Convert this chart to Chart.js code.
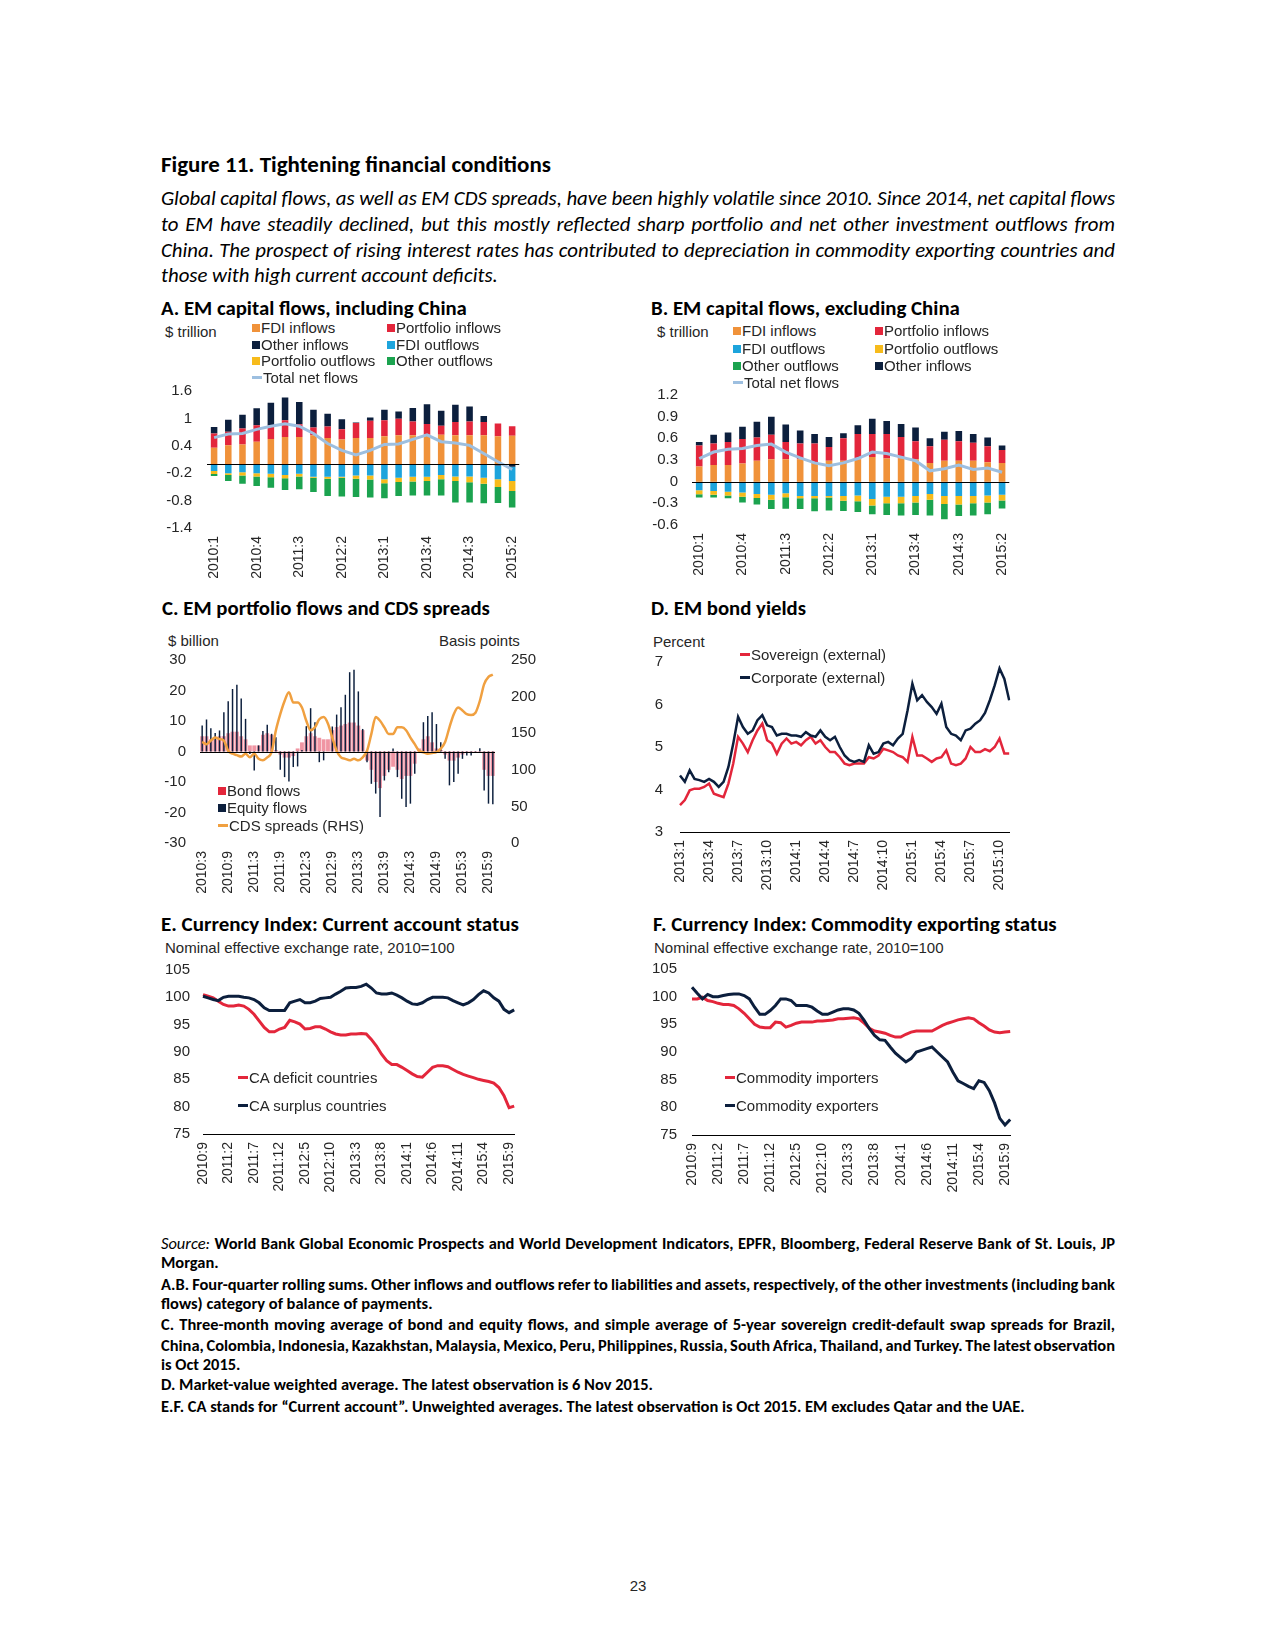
<!DOCTYPE html>
<html>
<head>
<meta charset="utf-8">
<script src="https://cdn.jsdelivr.net/npm/chart.js@4.4.1/dist/chart.umd.min.js"></script>
<style>
body { margin: 0; background: #fff; }
#page { position: relative; width: 1275px; height: 1650px; background: #fff; overflow: hidden; font-family: Carlito, Lato, sans-serif; color: #000; }
.ln { position: absolute; white-space: nowrap; line-height: 20px; }
.fig { font-weight: bold; font-size: 18px; }
.pt { font-weight: bold; font-size: 17px; }
.para { font-style: italic; font-size: 17px; }
.foot { font-size: 13.5px; font-weight: bold; }
.foot i { font-weight: normal; }
.ax { font-family: 'Liberation Sans', Arial, sans-serif; font-size: 15px; color: #262626; }
.lg { position: absolute; white-space: nowrap; line-height: 20px; font: 15px 'Liberation Sans', Arial, sans-serif; color: #262626; }
.sw-box { display: inline-block; width: 8px; height: 8px; margin-right: 1px; vertical-align: 1px; }
.sw-line { display: inline-block; width: 10px; height: 3px; margin-right: 1px; vertical-align: 4px; }
.box { position: absolute; }
</style>
</head>
<body>
<div id="page">

<div class="ln fig fit" data-w="390" style="left:161px;top:154px">Figure 11. Tightening financial conditions</div>

<div class="ln para pj" style="left:161px;top:188px">Global capital flows, as well as EM CDS spreads, have been highly volatile since 2010. Since 2014, net capital flows</div>
<div class="ln para pj" style="left:161px;top:214px">to EM have steadily declined, but this mostly reflected sharp portfolio and net other investment outflows from</div>
<div class="ln para pj" style="left:161px;top:240px">China. The prospect of rising interest rates has contributed to depreciation in commodity exporting countries and</div>
<div class="ln para" id="paraLast" style="left:161px;top:265px">those with high current account deficits.</div>

<div class="ln pt fit" data-w="306" style="left:161px;top:298px">A. EM capital flows, including China</div>
<div class="ln pt fit" data-w="309" style="left:651px;top:298px">B. EM capital flows, excluding China</div>
<div class="ln pt fit" data-w="328" style="left:162px;top:598px">C. EM portfolio flows and CDS spreads</div>
<div class="ln pt fit" data-w="155" style="left:651px;top:598px">D. EM bond yields</div>
<div class="ln pt fit" data-w="358" style="left:161px;top:914px">E. Currency Index: Current account status</div>
<div class="ln pt fit" data-w="404" style="left:653px;top:914px">F. Currency Index: Commodity exporting status</div>

<div class="ln ax" style="left:165px;top:322px">$ trillion</div>
<div class="ln ax" style="left:657px;top:322px">$ trillion</div>
<div class="ln ax" style="left:168px;top:631px">$ billion</div>
<div class="ln ax" style="left:439px;top:631px">Basis points</div>
<div class="ln ax" style="left:653px;top:632px">Percent</div>
<div class="ln ax" style="left:165px;top:938px">Nominal effective exchange rate, 2010=100</div>
<div class="ln ax" style="left:654px;top:938px">Nominal effective exchange rate, 2010=100</div>

<div class="box" style="left:150px;top:367px"><canvas id="chartA" width="387" height="228"></canvas></div>
<div class="box" style="left:640px;top:372px"><canvas id="chartB" width="387" height="223"></canvas></div>
<div class="box" style="left:150px;top:635px"><canvas id="chartC" width="400" height="280"></canvas></div>
<div class="box" style="left:640px;top:636px"><canvas id="chartD" width="394" height="272"></canvas></div>
<div class="box" style="left:150px;top:948px"><canvas id="chartE" width="389" height="267"></canvas></div>
<div class="box" style="left:640px;top:945px"><canvas id="chartF" width="395" height="270"></canvas></div>

<div class="ln foot fj" style="left:161px;top:1233px"><i>Source:</i> World Bank Global Economic Prospects and World Development Indicators, EPFR, Bloomberg, Federal Reserve Bank of St. Louis, JP</div>
<div class="ln foot fl" style="left:161px;top:1252px">Morgan.</div>
<div class="ln foot fj" style="left:161px;top:1274px">A.B. Four-quarter rolling sums. Other inflows and outflows refer to liabilities and assets, respectively, of the other investments (including bank</div>
<div class="ln foot fl" style="left:161px;top:1293px">flows) category of balance of payments.</div>
<div class="ln foot fj" style="left:161px;top:1314px">C. Three-month moving average of bond and equity flows, and simple average of 5-year sovereign credit-default swap spreads for Brazil,</div>
<div class="ln foot fj" style="left:161px;top:1335px">China, Colombia, Indonesia, Kazakhstan, Malaysia, Mexico, Peru, Philippines, Russia, South Africa, Thailand, and Turkey. The latest observation</div>
<div class="ln foot fl" style="left:161px;top:1354px">is Oct 2015.</div>
<div class="ln foot fl" id="footRef" style="left:161px;top:1374px">D. Market-value weighted average. The latest observation is 6 Nov 2015.</div>
<div class="ln foot fl" style="left:161px;top:1396px">E.F. CA stands for “Current account”. Unweighted averages. The latest observation is Oct 2015. EM excludes Qatar and the UAE.</div>

<div class="ln ax" style="left:598px;width:80px;text-align:center;top:1576px">23</div>
</div>

<script>
// ---------------------------------------------------------------
// Data
// ---------------------------------------------------------------

// A. EM capital flows, including China ($ trillion), 2010:1 - 2015:2
const aFdiIn    = [0.36,0.41,0.43,0.49,0.55,0.59,0.59,0.63,0.57,0.54,0.57,0.57,0.61,0.63,0.63,0.64,0.64,0.63,0.63,0.63,0.61,0.62];
const aPortIn   = [0.31,0.30,0.35,0.36,0.30,0.37,0.28,0.17,0.25,0.22,0.33,0.38,0.35,0.36,0.30,0.24,0.20,0.29,0.30,0.29,0.28,0.21];
const aOtherIn  = [0.14,0.26,0.30,0.37,0.49,0.50,0.49,0.39,0.28,0.22,0.01,0.07,0.23,0.16,0.30,0.43,0.33,0.38,0.33,0.13,-0.03,-0.06];
const aFdiOut   = [-0.15,-0.20,-0.18,-0.20,-0.21,-0.24,-0.21,-0.28,-0.28,-0.28,-0.25,-0.25,-0.33,-0.30,-0.28,-0.28,-0.24,-0.27,-0.27,-0.30,-0.30,-0.31];
const aPortOut  = [-0.065,-0.04,-0.07,-0.07,-0.08,-0.07,-0.06,-0.02,-0.04,-0.02,-0.07,-0.09,-0.09,-0.09,-0.10,-0.09,-0.09,-0.10,-0.13,-0.13,-0.17,-0.22];
const aOtherOut = [-0.045,-0.13,-0.18,-0.21,-0.23,-0.26,-0.28,-0.31,-0.38,-0.41,-0.40,-0.39,-0.33,-0.31,-0.31,-0.32,-0.36,-0.47,-0.44,-0.43,-0.35,-0.36];
const aNet      = [0.58,0.66,0.67,0.76,0.83,0.88,0.83,0.67,0.45,0.30,0.20,0.30,0.43,0.44,0.54,0.64,0.49,0.46,0.41,0.23,0.05,-0.12];

// B. EM capital flows, excluding China ($ trillion), 2010:1 - 2015:2
const bFdiIn    = [0.21,0.23,0.23,0.25,0.29,0.31,0.31,0.31,0.26,0.29,0.29,0.31,0.34,0.32,0.32,0.31,0.26,0.29,0.29,0.29,0.27,0.26];
const bPortIn   = [0.29,0.30,0.32,0.34,0.32,0.34,0.24,0.22,0.27,0.19,0.31,0.35,0.32,0.34,0.30,0.25,0.23,0.29,0.27,0.25,0.22,0.18];
const bOtherIn  = [0.05,0.12,0.13,0.17,0.22,0.25,0.24,0.18,0.13,0.14,0.07,0.12,0.21,0.18,0.18,0.19,0.11,0.11,0.14,0.12,0.12,0.06];
const bFdiOut   = [-0.12,-0.13,-0.14,-0.15,-0.17,-0.18,-0.16,-0.20,-0.20,-0.20,-0.20,-0.19,-0.24,-0.21,-0.21,-0.20,-0.17,-0.20,-0.20,-0.20,-0.19,-0.18];
const bPortOut  = [-0.055,-0.05,-0.05,-0.06,-0.055,-0.07,-0.055,-0.03,-0.03,-0.02,-0.065,-0.08,-0.09,-0.09,-0.09,-0.09,-0.08,-0.11,-0.115,-0.10,-0.10,-0.08];
const bOtherOut = [-0.045,-0.04,-0.04,-0.08,-0.09,-0.13,-0.16,-0.15,-0.18,-0.18,-0.14,-0.15,-0.12,-0.16,-0.17,-0.17,-0.22,-0.21,-0.16,-0.17,-0.16,-0.11];
const bNet      = [0.32,0.41,0.45,0.46,0.50,0.52,0.41,0.33,0.26,0.22,0.26,0.32,0.41,0.39,0.34,0.29,0.15,0.18,0.23,0.17,0.19,0.13];

// C. EM portfolio flows ($ billion) and CDS spreads (bp), monthly 2010:3 - 2015:10
const cBond   = [5,5,4,4,5,5,6,6.5,6.5,5, 4,2,2,2,5.5,6,5.5,0.5,-1,-2, -2,-1.5,1,3,5,6,5,4.5,4,4,
                 7,8,8.5,9,9.5,9.5,8.5,7,-3,-6, -10,-12,-8,-6,-5,-6,-9,-8,-8,-4, 1,4,5,3,1,0.5,-1,-3,-3,-2,
                 -1,-0.5,-0.5,-0.5,-0.3,-6,-8,-8];
const cEquity = [8.5,10.5,7.6,6.1,6.9,12.9,16.5,20.5,21.9,17.4, 10.7,-0.8,-6.2,2,6.7,8.8,5.8,4.7,-6.0,-8.4,
                 -9.8,-5.1,-4.9,0.5,8.3,14.2,9.6,-3.5,-2.9,0, 8.2,12.1,14.5,18.6,26.0,26.8,19.7,7.4,-3.5,-10.6,
                 -13.8,-21.5,-9.5,-6.8,1,-8.4,-15.5,-18.2,-17.1,-7.3, 0,9.6,11.6,12.9,9.0,3.0,-2.4,-11.1,-10.0,-7.3,
                 -2.4,-1.3,-1.3,-0.5,1.1,-12.8,-17.1,-17.3];
const cCds    = [138,135,140,144,142,140,126,122,120,118, 122,117,122,115,113,117,124,154,176,194,
                 206,192,192,185,167,154,158,169,172,163, 144,126,117,115,113,115,113,117,126,149,
                 172,167,158,149,149,158,158,154,144,135, 126,124,122,123,124,129,138,158,176,185,
                 181,176,175,178,194,217,227,230];

// D. EM bond yields (percent), twice a month 2013:1 - 2015:11
const dSov  = [3.63,3.75,3.98,4.02,4.02,4.06,4.14,3.90,3.86,3.82, 4.14,4.61,5.24,5.08,4.88,5.16,5.39,5.55,5.16,5.08,
               4.84,5.08,5.20,5.08,5.12,5.04,5.16,5.24,5.08,5.16, 5.00,4.88,4.88,4.76,4.61,4.57,4.61,4.61,4.61,4.76,
               4.73,4.80,4.96,4.92,4.88,4.80,4.76,4.65,5.24,4.80, 4.80,4.73,4.65,4.73,4.76,4.92,4.61,4.57,4.61,4.73,
               5.00,4.88,4.88,4.95,4.90,5.00,5.20,4.85,4.85];
const dCorp = [4.33,4.18,4.45,4.25,4.22,4.18,4.25,4.18,4.06,4.18, 4.53,5.08,5.71,5.47,5.31,5.39,5.63,5.75,5.51,5.47,
               5.27,5.31,5.31,5.27,5.27,5.24,5.35,5.27,5.24,5.39, 5.24,5.16,5.24,5.00,4.80,4.69,4.65,4.69,4.65,5.04,
               4.84,4.88,5.08,5.12,5.04,5.20,5.31,5.86,6.49,6.10, 6.22,6.06,5.94,5.78,6.02,5.47,5.31,5.27,5.16,5.39,
               5.43,5.55,5.63,5.80,6.10,6.45,6.85,6.60,6.10];

// E. Currency index by current account status, monthly 2010:9 - 2015:10
const eDeficit = [100.5,100.2,99.9,99.3,98.7,98.4,98.4,98.6,98.4,97.8, 96.9,95.7,94.5,93.7,93.7,94.2,94.5,95.8,95.5,95.1,
                  94.2,94.3,94.6,94.6,94.2,93.7,93.3,93.1,93.1,93.3, 93.3,93.4,93.3,92.3,91.1,89.6,88.4,87.7,87.7,87.2,
                  86.6,86.0,85.5,85.4,86.3,87.2,87.5,87.5,87.3,86.8, 86.3,85.9,85.6,85.3,85.0,84.8,84.6,84.3,83.5,82.0,
                  79.8,80.1];
const eSurplus = [100.2,99.9,99.6,99.4,100,100.2,100.2,100.2,100,99.9, 99.6,99.0,98.1,97.6,97.6,97.6,97.6,99.0,99.3,99.6,
                  99.0,99.0,99.3,99.8,99.9,100,100.6,101.1,101.7,101.8, 101.8,102.0,102.4,101.7,100.8,100.6,100.6,100.8,100.4,99.9,
                  99.3,98.8,98.7,99.0,99.6,100,100,100,99.9,99.4, 99.0,98.6,99.0,99.6,100.5,101.2,100.8,99.9,99.3,97.8,
                  97.2,97.7];

// F. Currency index by commodity exporting status, monthly 2010:9 - 2015:10
const fImporters = [99.6,99.6,99.9,99.3,99.1,98.8,98.6,98.6,98.4,97.8, 97.0,96.0,95.0,94.5,94.4,94.4,95.4,95.3,94.5,94.8,
                    95.2,95.4,95.4,95.4,95.6,95.6,95.7,95.8,96.0,96.0, 96.1,96.2,96.0,95.2,94.3,93.8,93.6,93.4,93.0,92.7,
                    92.7,93.2,93.6,93.8,93.8,93.8,93.8,94.3,94.8,95.2, 95.5,95.8,96.0,96.2,96.0,95.3,94.7,94.0,93.6,93.5,
                    93.6,93.7];
const fExporters = [101.7,100.6,99.6,100.4,100,100,100.2,100.4,100.5,100.5, 100.2,99.6,98.1,96.8,96.8,97.5,98.4,99.6,99.6,99.3,
                    98.4,98.4,98.4,98.1,97.4,96.8,96.8,97.2,97.6,97.8, 97.8,97.6,97.0,95.7,94.2,93.0,92.2,92.1,90.9,89.8,
                    89.0,88.2,88.8,90.0,90.3,90.6,90.9,90.0,89.1,88.2, 86.4,84.8,84.3,83.8,83.4,84.8,84.5,83.0,80.8,78.0,
                    76.8,77.8];

// Colours
const ORANGE = '#f0923a', RED = '#e3263b', NAVY = '#0c1f3d', BLUE = '#1da4dc',
      YELLOW = '#f7bb1b', GREEN = '#1ba34f', NETBLUE = '#9dbfe0', PINK = '#f095a3', CDS = '#f0a040';

// ---------------------------------------------------------------
// Label helpers
// ---------------------------------------------------------------
function quarterLabels(year, q, n) {
    var out = [];
    for (var i = 0; i < n; i++) {
        out.push(year + ':' + q);
        q++;
        if (q > 4) { q = 1; year++; }
    }
    return out;
}

function monthLabels(year, m, n, repeat) {
    var out = [];
    for (var i = 0; i < n; i++) {
        for (var r = 0; r < repeat; r++) out.push(year + ':' + m);
        m++;
        if (m > 12) { m = 1; year++; }
    }
    return out;
}

// ---------------------------------------------------------------
// Chart defaults and shared pieces
// ---------------------------------------------------------------
Chart.defaults.font.family = "'Liberation Sans', Arial, sans-serif";
Chart.defaults.font.size = 15;
Chart.defaults.color = '#262626';
Chart.defaults.animation = false;
Chart.defaults.responsive = false;
Chart.defaults.events = [];
Chart.defaults.plugins.legend.display = false;
Chart.defaults.plugins.tooltip.enabled = false;

// Draws a black line at value 0 of the left axis.
const zeroLine = {
    id: 'zeroLine',
    defaults: { show: false },
    afterDatasetsDraw(chart, args, opts) {
        if (!opts.show) return;
        var y = Math.round(chart.scales.y.getPixelForValue(0)) + 0.5;
        var ctx = chart.ctx;
        ctx.save();
        ctx.strokeStyle = '#000';
        ctx.lineWidth = 1;
        ctx.beginPath();
        ctx.moveTo(chart.chartArea.left, y);
        ctx.lineTo(chart.chartArea.right, y);
        ctx.stroke();
        ctx.restore();
    }
};
Chart.register(zeroLine);

function every(n) {
    return function(value, index) {
        return index % n === 0 ? this.getLabelForValue(value) : '';
    };
}

function xAxis(n, height, border) {
    return {
        grid: { display: false, drawTicks: false },
        border: { display: !!border, color: '#000', width: 1 },
        ticks: { autoSkip: false, minRotation: 90, maxRotation: 90, padding: 8, font: { size: 14 }, callback: every(n) },
        afterFit: function(axis) { axis.height = height; }
    };
}

function yAxis(min, max, step, width, pad, dec) {
    return {
        min: min, max: max,
        grid: { display: false, drawTicks: false },
        border: { display: false },
        ticks: { autoSkip: false, stepSize: step, padding: pad, callback: function(v) { return +v.toFixed(dec); } },
        afterFit: function(axis) { axis.width = width; }
    };
}

function barSet(label, data, color) {
    return { label: label, data: data, backgroundColor: color, stack: 'flows', order: 1,
             barPercentage: 0.46, categoryPercentage: 1 };
}

function lineSet(label, data, color, width, order) {
    return { type: 'line', label: label, data: data, borderColor: color, backgroundColor: color,
             borderWidth: width, pointRadius: 0, tension: 0, order: order };
}

// ---------------------------------------------------------------
// HTML legends, built from the chart datasets
// ---------------------------------------------------------------
const page = document.getElementById('page');

function htmlLegend(chart, spots) {
    spots.forEach(function(s) {
        var ds = chart.data.datasets[s[0]];
        var d = document.createElement('div');
        d.className = 'lg';
        d.style.left = s[1] + 'px';
        d.style.top = (s[2] - 10) + 'px';
        var sw = document.createElement('span');
        var isLine = (ds.type === 'line' || chart.config.type === 'line');
        sw.className = isLine ? 'sw-line' : 'sw-box';
        sw.style.background = s[3] || (isLine ? ds.borderColor : ds.backgroundColor);
        d.appendChild(sw);
        d.appendChild(document.createTextNode(ds.label));
        page.appendChild(d);
    });
}

// ---------------------------------------------------------------
// A. EM capital flows, including China
// ---------------------------------------------------------------
var yA = yAxis(-1.4, 1.6, 0.6, 57, 15, 1);
yA.stacked = true;
var xA = xAxis(3, 67, false);
xA.stacked = true;

const chartA = new Chart(document.getElementById('chartA'), {
    type: 'bar',
    data: {
        labels: quarterLabels(2010, 1, aFdiIn.length),
        datasets: [
            barSet('FDI inflows', aFdiIn, ORANGE),
            barSet('Portfolio inflows', aPortIn, RED),
            barSet('Other inflows', aOtherIn, NAVY),
            barSet('FDI outflows', aFdiOut, BLUE),
            barSet('Portfolio outflows', aPortOut, YELLOW),
            barSet('Other outflows', aOtherOut, GREEN),
            Object.assign(lineSet('Total net flows', aNet, NETBLUE, 3, 0), { stack: 'net' })
        ]
    },
    options: {
        layout: { padding: { top: 7, right: 2 } },
        scales: { x: xA, y: yA },
        plugins: { zeroLine: { show: true } }
    }
});
htmlLegend(chartA, [[0, 252, 329], [1, 387, 329], [2, 252, 346], [3, 387, 346],
                    [4, 252, 362], [5, 387, 362], [6, 252, 379]]);

// ---------------------------------------------------------------
// B. EM capital flows, excluding China
// ---------------------------------------------------------------
var yB = yAxis(-0.6, 1.2, 0.3, 52, 14, 1);
yB.stacked = true;
var xB = xAxis(3, 70, false);
xB.stacked = true;

const chartB = new Chart(document.getElementById('chartB'), {
    type: 'bar',
    data: {
        labels: quarterLabels(2010, 1, bFdiIn.length),
        datasets: [
            barSet('FDI inflows', bFdiIn, ORANGE),
            barSet('Portfolio inflows', bPortIn, RED),
            barSet('Other inflows', bOtherIn, NAVY),
            barSet('FDI outflows', bFdiOut, BLUE),
            barSet('Portfolio outflows', bPortOut, YELLOW),
            barSet('Other outflows', bOtherOut, GREEN),
            Object.assign(lineSet('Total net flows', bNet, NETBLUE, 3, 0), { stack: 'net' })
        ]
    },
    options: {
        layout: { padding: { top: 7, right: 6 } },
        scales: { x: xB, y: yB },
        plugins: { zeroLine: { show: true } }
    }
});
htmlLegend(chartB, [[0, 733, 332], [1, 875, 332], [3, 733, 350], [4, 875, 350],
                    [5, 733, 367], [2, 875, 367], [6, 733, 384]]);

// ---------------------------------------------------------------
// C. EM portfolio flows and CDS spreads
// ---------------------------------------------------------------
var yC = yAxis(-30, 30, 10, 50, 14, 0);
var y1C = yAxis(0, 250, 50, 55, 16, 0);
y1C.position = 'right';

const chartC = new Chart(document.getElementById('chartC'), {
    type: 'bar',
    data: {
        labels: monthLabels(2010, 3, cBond.length, 1),
        datasets: [
            { label: 'Bond flows', data: cBond, backgroundColor: PINK, grouped: false, order: 2,
              barPercentage: 0.88, categoryPercentage: 1 },
            { label: 'Equity flows', data: cEquity, backgroundColor: NAVY, grouped: false, order: 1,
              barPercentage: 0.34, categoryPercentage: 1 },
            Object.assign(lineSet('CDS spreads (RHS)', cCds, CDS, 2.5, 0),
                          { yAxisID: 'y1', cubicInterpolationMode: 'monotone' })
        ]
    },
    options: {
        layout: { padding: { top: 4 } },
        scales: { x: xAxis(6, 72, false), y: yC, y1: y1C },
        plugins: { zeroLine: { show: true } }
    }
});
htmlLegend(chartC, [[0, 218, 792, RED], [1, 218, 809], [2, 218, 827]]);

// ---------------------------------------------------------------
// D. EM bond yields
// ---------------------------------------------------------------
const chartD = new Chart(document.getElementById('chartD'), {
    type: 'line',
    data: {
        labels: monthLabels(2013, 1, 35, 2).slice(0, dSov.length),
        datasets: [
            lineSet('Sovereign (external)', dSov, RED, 2.5, 1),
            lineSet('Corporate (external)', dCorp, NAVY, 2.5, 0)
        ]
    },
    options: {
        layout: { padding: { top: 0, right: 0 } },
        scales: { x: xAxis(6, 76, true), y: yAxis(3, 7, 1, 40, 17, 0) }
    }
});
htmlLegend(chartD, [[0, 740, 656], [1, 740, 679]]);

// ---------------------------------------------------------------
// E. Currency index: current account status
// ---------------------------------------------------------------
const chartE = new Chart(document.getElementById('chartE'), {
    type: 'line',
    data: {
        labels: monthLabels(2010, 9, eDeficit.length, 1),
        datasets: [
            lineSet('CA deficit countries', eDeficit, RED, 3, 1),
            lineSet('CA surplus countries', eSurplus, NAVY, 3, 0)
        ]
    },
    options: {
        layout: { padding: { top: 7, right: 0 } },
        scales: { x: xAxis(5, 81, true), y: yAxis(75, 105, 5, 53, 13, 0) }
    }
});
htmlLegend(chartE, [[0, 238, 1079], [1, 238, 1107]]);

// ---------------------------------------------------------------
// F. Currency index: commodity exporting status
// ---------------------------------------------------------------
const chartF = new Chart(document.getElementById('chartF'), {
    type: 'line',
    data: {
        labels: monthLabels(2010, 9, fImporters.length, 1),
        datasets: [
            lineSet('Commodity importers', fImporters, RED, 3, 1),
            lineSet('Commodity exporters', fExporters, NAVY, 3, 0)
        ]
    },
    options: {
        layout: { padding: { top: 4, right: 0 } },
        scales: { x: xAxis(5, 80, true), y: yAxis(75, 105, 5, 52, 15, 0) }
    }
});
htmlLegend(chartF, [[0, 725, 1079], [1, 725, 1107]]);

// ---------------------------------------------------------------
// Fit the body text to the widths of the reference page
// ---------------------------------------------------------------
function widthOf(el) { return el.getBoundingClientRect().width; }

// Scale the font size so the line is as wide as in the reference.
function fitSize(el, target) {
    var size = parseFloat(getComputedStyle(el).fontSize);
    var s = size * target / widthOf(el);
    el.style.fontSize = s + 'px';
    return s;
}

function fitWords(el, target) {
    el.style.wordSpacing = '0px';
    var w = widthOf(el);
    var n = (el.textContent.match(/ /g) || []).length;
    if (n) el.style.wordSpacing = ((target - w) / n) + 'px';
}

document.fonts.ready.then(function() {
    document.querySelectorAll('.fit').forEach(function(el) {
        fitSize(el, +el.dataset.w);
    });

    var sPara = fitSize(document.getElementById('paraLast'), 337);
    document.querySelectorAll('.pj').forEach(function(el) {
        el.style.fontSize = sPara + 'px';
        fitWords(el, 954);
    });

    var sFoot = fitSize(document.getElementById('footRef'), 492);
    document.querySelectorAll('.fl').forEach(function(el) {
        el.style.fontSize = sFoot + 'px';
    });
    document.querySelectorAll('.fj').forEach(function(el) {
        el.style.fontSize = sFoot + 'px';
        fitWords(el, 954);
    });
});
</script>
</body>
</html>
